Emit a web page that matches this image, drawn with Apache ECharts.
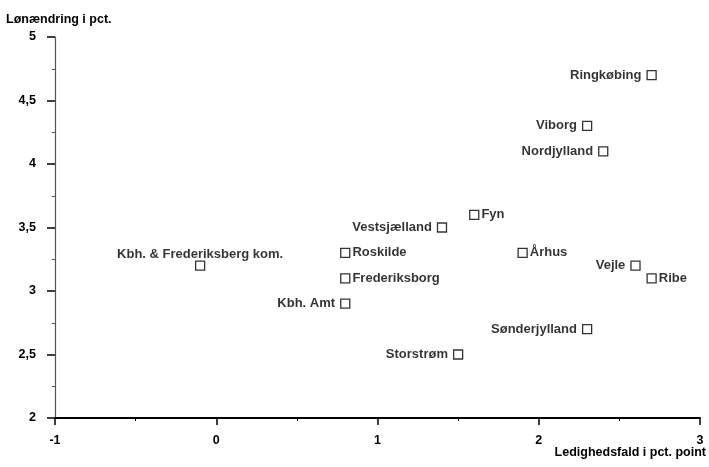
<!DOCTYPE html>
<html>
<head>
<meta charset="utf-8">
<script src="https://cdn.jsdelivr.net/npm/echarts@6/dist/echarts.min.js"></script>
<style>html,body{margin:0;padding:0;background:#fff;}#c{width:709px;height:467px;}</style>
</head>
<body>
<div id="c"></div>
<script>
const names = ["Ringkøbing","Viborg","Nordjylland","Fyn","Århus","Vejle","Ribe","Sønderjylland","Storstrøm","Vestsjælland","Roskilde","Frederiksborg","Kbh. Amt","Kbh. & Frederiksberg kom."];
const ledighedsfald = [2.7, 2.3, 2.4, 1.6, 1.9, 2.6, 2.7, 2.3, 1.5, 1.4, 0.8, 0.8, 0.8, -0.1];
const loenaendring = [4.7, 4.3, 4.1, 3.6, 3.3, 3.2, 3.1, 2.7, 2.5, 3.5, 3.3, 3.1, 2.9, 3.2];
const labelSides = ["left","left","left","right","right","left","right","left","left","left","right","right","left","top"];
const xTicks = [-1, 0, 1, 2, 3];
const yTicks = [2, 2.5, 3, 3.5, 4, 4.5, 5];
const xTitle = "Ledighedsfald i pct. point";
const yTitle = "Lønændring i pct.";

const font = "'Liberation Sans', Arial, sans-serif";
const fmt = v => String(v).replace('.', ',');

const chart = echarts.init(document.getElementById('c'), null, {renderer: 'canvas'});
chart.setOption({
  animation: false,
  backgroundColor: '#fff',
  grid: {left: 55, right: 9, top: 37, bottom: 49, containLabel: false},
  xAxis: {
    type: 'value', min: xTicks[0], max: xTicks[xTicks.length-1], interval: 1,
    splitLine: {show: false},
    axisLine: {onZero: false, lineStyle: {color: '#000', width: 2}},
    axisTick: {show: true, length: 7, lineStyle: {color: '#000', width: 1.5}},
    minorTick: {show: true, splitNumber: 2, length: 3, lineStyle: {color: '#000', width: 1}},
    axisLabel: {color: '#000', fontFamily: font, fontWeight: 'bold', fontSize: 12.5, margin: 16, formatter: fmt}
  },
  yAxis: {
    type: 'value', min: yTicks[0], max: yTicks[yTicks.length-1], interval: 0.5,
    splitLine: {show: false},
    axisLine: {onZero: false, lineStyle: {color: '#555', width: 1.2}},
    axisTick: {show: true, length: 8, lineStyle: {color: '#000', width: 1.5}},
    minorTick: {show: true, splitNumber: 2, length: 3, lineStyle: {color: '#555', width: 1}},
    axisLabel: {color: '#000', fontFamily: font, fontWeight: 'bold', fontSize: 12.5, margin: 19, formatter: fmt}
  },
  series: [{
    type: 'scatter',
    symbol: 'rect',
    symbolSize: 9,
    itemStyle: {color: '#fff', borderColor: '#000', borderWidth: 1.3},
    data: names.map((n, i) => ({
      name: n,
      value: [ledighedsfald[i], loenaendring[i]],
      label: {show: true, position: labelSides[i], distance: labelSides[i] === 'top' ? 0 : (labelSides[i] === 'left' ? 5 : 2)}
    })),
    label: {
      show: true,
      formatter: p => p.name,
      color: '#000', fontFamily: font, fontWeight: 'bold', fontSize: 13
    }
  }],
  graphic: [
    {type: 'text', left: 6, top: 13, style: {text: yTitle, fill: '#000', font: "bold 12.5px 'Liberation Sans', Arial, sans-serif"}},
    {type: 'text', right: 3, top: 446, style: {text: xTitle, fill: '#000', font: "bold 12.5px 'Liberation Sans', Arial, sans-serif"}}
  ]
});
</script>
</body>
</html>
